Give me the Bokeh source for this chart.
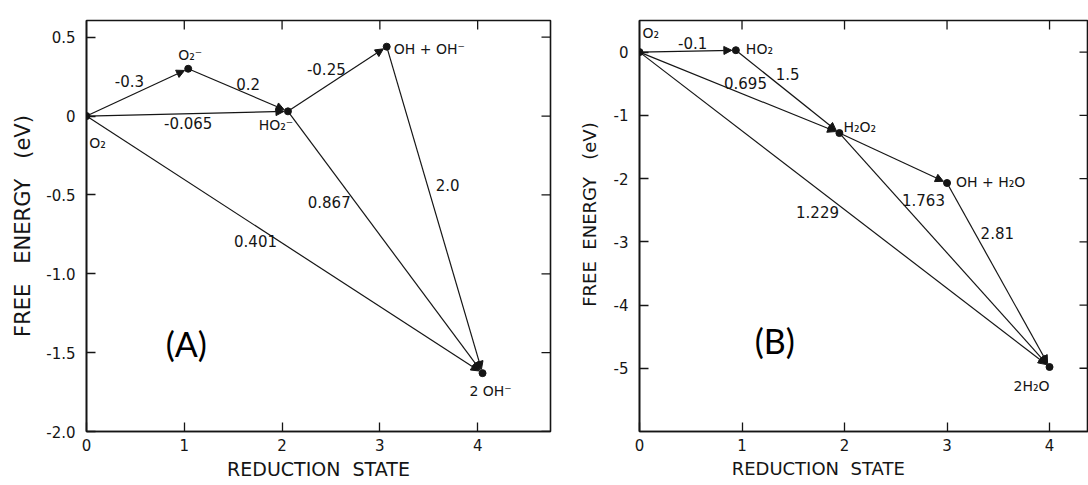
import math
from bokeh.plotting import figure
from bokeh.models import (Range1d, FixedTicker, ColumnDataSource,
                          Arrow, NormalHead, Label)
from bokeh.layouts import row
from bokeh.embed import file_html
from bokeh.resources import INLINE
from bokeh.core.properties import value

# ---------------- Panel A data (alkaline) ----------------
a_species = ["O₂", "O₂⁻", "HO₂⁻", "OH + OH⁻", "2 OH⁻"]
a_state = [0.0, 1.04, 2.06, 3.07, 4.05]
a_energy = [0.0, 0.30, 0.03, 0.44, -1.63]
a_from = [0, 1, 0, 2, 0, 2, 3]
a_to = [1, 2, 2, 3, 4, 4, 4]
a_edge_values = ["-0.3", "0.2", "-0.065", "-0.25", "0.401", "0.867", "2.0"]
a_x_ticks = [0, 1, 2, 3, 4]
a_x_tick_labels = ["0", "1", "2", "3", "4"]
a_y_ticks = [-2.0, -1.5, -1.0, -0.5, 0.0, 0.5]
a_y_tick_labels = ["-2.0", "-1.5", "-1.0", "-0.5", "0", "0.5"]

# ---------------- Panel B data (acid) ----------------
b_species = ["O₂", "HO₂", "H₂O₂", "OH + H₂O", "2H₂O"]
b_state = [0.0, 0.94, 1.95, 3.0, 4.0]
b_energy = [0.0, 0.03, -1.28, -2.07, -4.98]
b_from = [0, 1, 0, 2, 0, 2, 3]
b_to = [1, 2, 2, 3, 4, 4, 4]
b_edge_values = ["-0.1", "1.5", "0.695", "", "1.229", "1.763", "2.81"]
b_x_ticks = [0, 1, 2, 3, 4]
b_x_tick_labels = ["0", "1", "2", "3", "4"]
b_y_ticks = [-5, -4, -3, -2, -1, 0]
b_y_tick_labels = ["-5", "-4", "-3", "-2", "-1", "0"]

x_title_words = ["REDUCTION", "STATE"]
y_title_words = ["FREE", "ENERGY", "(eV)"]

# ---------------- styles / layout ----------------
FONT = "DejaVu Sans"
INK = "#151515"
H = 485
NB = "\u00a0"

A_style = dict(width=573, left=86, right=23, top=13, bottom=54,
               xr=(0, 4.745), yr=(-2.0, 0.606),
               xlabel_size="19px", ylabel_size="21px", xpad=0, ylead=0,
               ygaps=(3, 3), panel="(A)", panel_xy=(1.02, -1.44), ylabel_standoff=8,
               node_off=[(11, 27, "center"), (2, -14, "center"), (-12, 14, "center"),
                         (7, 2, "left"), (8, 18, "center")],
               edge_off=[(-8, -11), (10, -6), (1, 9), (-11, -10), (-29, -4),
                         (-56, -40), (13, -25)])
B_style = dict(width=1088 - 573, left=66, right=0, top=20, bottom=53,
               xr=(0, 4.38), yr=(-6.0, 0.5),
               xlabel_size="18px", ylabel_size="18px", xpad=16, ylead=4,
               ygaps=(2, 3), panel="(B)", panel_xy=(1.32, -4.56), ylabel_standoff=11,
               node_off=[(3, -19, "left"), (10, -1, "left"), (4, -6, "left"),
                         (9, -1, "left"), (-18, 19, "center")],
               edge_off=[(5, -8), (0, -18), (6, -10), (0, 0), (-27, 2),
                         (-21, -50), (-1, -42)])


def key(v):
    return int(v) if float(v) == int(v) else v


def make_panel(st, species, xs, ys, fr, to, evals, xt, xtl, yt, ytl):
    p = figure(width=st["width"], height=H, output_backend="svg", toolbar_location=None,
               x_range=Range1d(*st["xr"]), y_range=Range1d(*st["yr"]),
               min_border_left=st["left"], min_border_right=st["right"],
               min_border_top=st["top"], min_border_bottom=st["bottom"],
               background_fill_color="white", border_fill_color="white")
    p.grid.visible = False
    p.outline_line_color = INK
    p.outline_line_width = 1.6

    fw = st["width"] - st["left"] - st["right"]
    fh = H - st["top"] - st["bottom"]
    kx = fw / (st["xr"][1] - st["xr"][0])
    ky = fh / (st["yr"][1] - st["yr"][0])

    # axes
    p.xaxis.ticker = FixedTicker(ticks=xt)
    p.xaxis.major_label_overrides = {key(t): s for t, s in zip(xt, xtl)}
    p.yaxis.ticker = FixedTicker(ticks=yt)
    p.yaxis.major_label_overrides = {key(t): s for t, s in zip(yt, ytl)}
    g1, g2 = st["ygaps"]
    # leading / trailing non-breaking spaces nudge the visible titles to where
    # the original (hand-lettered, not centred) titles sit
    p.yaxis.axis_label = (NB * st["ylead"] + y_title_words[0] + NB * g1 +
                          y_title_words[1] + NB * g2 + y_title_words[2])
    p.yaxis.axis_label_text_font_size = st["ylabel_size"]
    p.xaxis.axis_label = (NB * 2).join(x_title_words) + NB * st["xpad"]
    p.xaxis.axis_label_text_font_size = st["xlabel_size"]
    p.xaxis.major_label_standoff = 7
    p.yaxis.major_label_standoff = 11
    p.xaxis.axis_label_standoff = 4
    p.yaxis.axis_label_standoff = st["ylabel_standoff"]
    for ax in [p.xaxis[0], p.yaxis[0]]:
        ax.axis_label_text_font = FONT
        ax.axis_label_text_font_style = "normal"
        ax.axis_label_text_color = INK
        ax.major_label_text_font = FONT
        ax.major_label_text_font_size = "15px"
        ax.major_label_text_color = INK
        ax.major_tick_in = 9
        ax.major_tick_out = 0
        ax.minor_tick_line_color = None
        ax.axis_line_color = INK
        ax.axis_line_width = 1.6
        ax.major_tick_line_color = INK
        ax.major_tick_line_width = 1.3

    # inward ticks on top and right frame edges
    p.ray(x=xt[1:], y=[st["yr"][1]] * len(xt[1:]), length=9, length_units="screen",
          angle=-math.pi / 2, line_color=INK, line_width=1.3)
    p.ray(x=[st["xr"][1]] * len(yt), y=yt, length=9, length_units="screen",
          angle=math.pi, line_color=INK, line_width=1.3)

    # arrows (stopping a few pixels short of the target dot)
    gap = 4.0
    x0, y0, x1, y1 = [], [], [], []
    for a, b in zip(fr, to):
        dxp = (xs[b] - xs[a]) * kx
        dyp = (ys[b] - ys[a]) * ky
        L = math.hypot(dxp, dyp)
        f = 1 - gap / L
        x0.append(xs[a]); y0.append(ys[a])
        x1.append(xs[a] + f * (xs[b] - xs[a])); y1.append(ys[a] + f * (ys[b] - ys[a]))
    asrc = ColumnDataSource(dict(x0=x0, y0=y0, x1=x1, y1=y1))
    p.add_layout(Arrow(end=NormalHead(size=8, fill_color=INK, line_color=INK, line_width=1),
                       x_start="x0", y_start="y0", x_end="x1", y_end="y1",
                       source=asrc, line_color=INK, line_width=1.2))

    p.scatter(xs, ys, size=7, color=INK)

    # edge value labels at segment midpoints
    keep = [i for i, t in enumerate(evals) if t]
    esrc = ColumnDataSource(dict(
        x=[(xs[fr[i]] + xs[to[i]]) / 2 for i in keep],
        y=[(ys[fr[i]] + ys[to[i]]) / 2 for i in keep],
        t=[evals[i] for i in keep],
        dx=[st["edge_off"][i][0] for i in keep],
        dy=[st["edge_off"][i][1] for i in keep]))
    p.text(x="x", y="y", text="t", x_offset="dx", y_offset="dy", source=esrc,
           text_font=value(FONT), text_font_size="15px", text_color=INK,
           text_align="center", text_baseline="middle")

    # species labels
    for align in ["center", "left"]:
        idx = [i for i, o in enumerate(st["node_off"]) if o[2] == align]
        if not idx:
            continue
        nsrc = ColumnDataSource(dict(x=[xs[i] for i in idx], y=[ys[i] for i in idx],
                                     t=[species[i] for i in idx],
                                     dx=[st["node_off"][i][0] for i in idx],
                                     dy=[st["node_off"][i][1] for i in idx]))
        p.text(x="x", y="y", text="t", x_offset="dx", y_offset="dy", source=nsrc,
               text_font=value(FONT), text_font_size="14px", text_color=INK,
               text_align=align, text_baseline="middle")

    p.add_layout(Label(x=st["panel_xy"][0], y=st["panel_xy"][1], text=st["panel"],
                       text_font="Lato", text_font_size="34px", text_color="black",
                       text_align="center", text_baseline="middle"))
    return p


pa = make_panel(A_style, a_species, a_state, a_energy, a_from, a_to, a_edge_values,
                a_x_ticks, a_x_tick_labels, a_y_ticks, a_y_tick_labels)
pb = make_panel(B_style, b_species, b_state, b_energy, b_from, b_to, b_edge_values,
                b_x_ticks, b_x_tick_labels, b_y_ticks, b_y_tick_labels)

layout = row(pa, pb, spacing=0)
open("out.html", "w").write(file_html(layout, INLINE))
